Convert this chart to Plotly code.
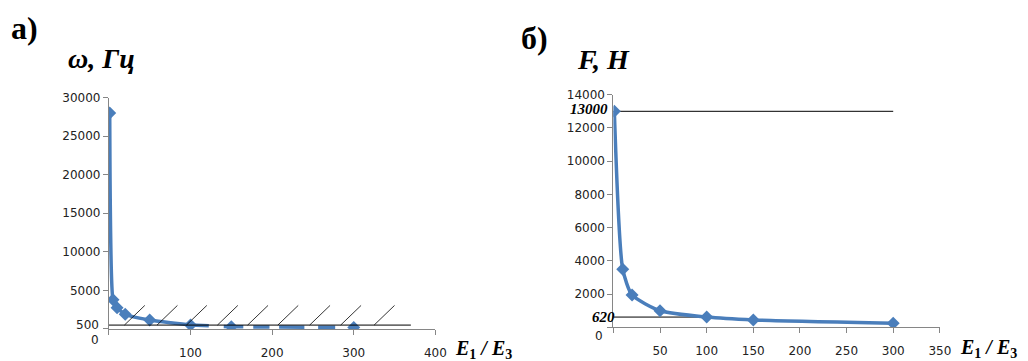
import plotly.graph_objects as go

# ---- data: panel a) ----
ratio_a = [1, 5, 10, 20, 50, 100, 150, 300]
omega_hz = [28000, 3800, 2750, 1900, 1150, 500, 300, 200]
omega_limit = 500
omega_limit_end = 370
hatch_starts = [19, 59, 95, 133, 170, 207, 246, 284, 325]
hatch_dx = 25
hatch_top = 3050
xticks_a = [0, 100, 200, 300, 400]
yticks_a = [5000, 10000, 15000, 20000, 25000, 30000]

# ---- data: panel б) ----
ratio_b = [1, 10, 20, 50, 100, 150, 300]
force_n = [13000, 3500, 1950, 1000, 620, 450, 250]
force_max = 13000
force_max_end = 300
force_min = 620
force_min_end = 100
xticks_b = [0, 50, 100, 150, 200, 250, 300, 350]
yticks_b = [0, 2000, 4000, 6000, 8000, 10000, 12000, 14000]

BLUE = "#4A7EBB"
AXC = "#868686"
PAGE_W, PAGE_H = 1028, 361
OFF = 8  # default page body margin
W, H = PAGE_W - OFF, PAGE_H - OFF

def px(v):
    return (v - OFF) / W

def py(v):
    return 1 - (v - OFF) / H

fig = go.Figure()

# panel a: solid part
n_solid = 6
fig.add_trace(go.Scatter(x=ratio_a[:n_solid], y=omega_hz[:n_solid], mode="lines",
                         line=dict(color=BLUE, width=3.5, shape="spline", smoothing=0.5),
                         xaxis="x", yaxis="y", showlegend=False, hoverinfo="skip"))
fig.add_trace(go.Scatter(x=ratio_a[n_solid - 1:], y=omega_hz[n_solid - 1:], mode="lines",
                         line=dict(color=BLUE, width=3.5, shape="spline", smoothing=0.5,
                                   dash="18px,15px,20px,10px,16px,10px,25px,14px,17px,14px,20px,10px"),
                         xaxis="x", yaxis="y", showlegend=False, hoverinfo="skip"))
fig.add_trace(go.Scatter(x=ratio_a, y=omega_hz, mode="markers",
                         marker=dict(color=BLUE, symbol="diamond", size=10),
                         xaxis="x", yaxis="y", showlegend=False))
fig.add_trace(go.Scatter(x=[0, omega_limit_end], y=[omega_limit, omega_limit], mode="lines",
                         line=dict(color="black", width=1),
                         xaxis="x", yaxis="y", showlegend=False, hoverinfo="skip"))
for hx in hatch_starts:
    fig.add_trace(go.Scatter(x=[hx, hx + hatch_dx], y=[omega_limit, hatch_top], mode="lines",
                             line=dict(color="black", width=0.8),
                             xaxis="x", yaxis="y", showlegend=False, hoverinfo="skip"))

# panel b
fig.add_trace(go.Scatter(x=[0, force_max_end], y=[force_max, force_max], mode="lines",
                         line=dict(color="black", width=1),
                         xaxis="x2", yaxis="y2", showlegend=False, hoverinfo="skip"))
fig.add_trace(go.Scatter(x=[0, force_min_end], y=[force_min, force_min], mode="lines",
                         line=dict(color="black", width=1),
                         xaxis="x2", yaxis="y2", showlegend=False, hoverinfo="skip"))
fig.add_trace(go.Scatter(x=ratio_b, y=force_n, mode="lines+markers",
                         line=dict(color=BLUE, width=3.5, shape="spline", smoothing=0.6),
                         marker=dict(color=BLUE, symbol="diamond", size=10),
                         xaxis="x2", yaxis="y2", showlegend=False))

tickfont = dict(family="DejaVu Sans", size=12, color="#222")
axcommon = dict(showline=True, linecolor=AXC, linewidth=1, ticks="outside", ticklen=5,
                tickcolor=AXC, showgrid=False, zeroline=False, tickfont=tickfont, fixedrange=True)

fig.update_layout(
    width=W, height=H, autosize=False,
    margin=dict(l=0, r=0, t=0, b=0),
    paper_bgcolor="white", plot_bgcolor="white",
    xaxis=dict(domain=[px(110), px(440)], range=[0, 400], tickvals=xticks_a,
               ticktext=[""] + [str(v) for v in xticks_a[1:]], ticklabelstandoff=8,
               anchor="y", **axcommon),
    yaxis=dict(domain=[py(328.3), py(92.3)], range=[0, 30000], tickvals=[0] + yticks_a,
               ticktext=[""] + [str(v) for v in yticks_a], anchor="x", **axcommon),
    xaxis2=dict(domain=[px(620), px(950)], range=[0, 350], tickvals=xticks_b,
                ticktext=[""] + [str(v) for v in xticks_b[1:]], ticklabelstandoff=7,
                anchor="y2", **axcommon),
    yaxis2=dict(domain=[py(326.7), py(89.3)], range=[0, 14000], tickvals=yticks_b,
                ticktext=[""] + [str(v) for v in yticks_b[1:]], anchor="x2", **axcommon),
)

serif_bi = dict(family="Liberation Serif", size=15, color="black")
ann = []
def A(text, x, y, xanchor="left", font=None):
    ann.append(dict(text=text, x=px(x), y=py(y), xref="paper", yref="paper",
                    xanchor=xanchor, yanchor="middle", showarrow=False, font=font))

big = dict(family="Liberation Serif", size=32, color="black")
mid = dict(family="Liberation Serif", size=28, color="black")
lab = dict(family="Liberation Serif", size=20, color="black")
A("<b>а)</b>", 9, 21, font=big)
A("<b><i>ω, Гц</i></b>", 67, 52, font=mid)
A("<b>б)</b>", 525, 31, font=big)
A("<b><i>F, Н</i></b>", 581, 53, font=mid)
A("<b><i>E</i></b><sub><b>1</b></sub><b><i> / E</i></b><sub><b>3</b></sub>", 458, 349, font=lab)
A("<b><i>E</i></b><sub><b>1</b></sub><b><i> / E</i></b><sub><b>3</b></sub>", 968, 348, font=lab)
A(str(omega_limit), 102, 324.5, xanchor="right", font=tickfont)
A("0", 102, 340, xanchor="right", font=tickfont)
A("<b><i>%d</i></b>" % force_max, 617, 104, xanchor="right", font=serif_bi)
A("<b><i>%d</i></b>" % force_min, 624, 316, xanchor="right", font=serif_bi)
A("0", 612, 335, xanchor="right", font=tickfont)
fig.update_layout(annotations=ann)

fig.write_html("out.html")
